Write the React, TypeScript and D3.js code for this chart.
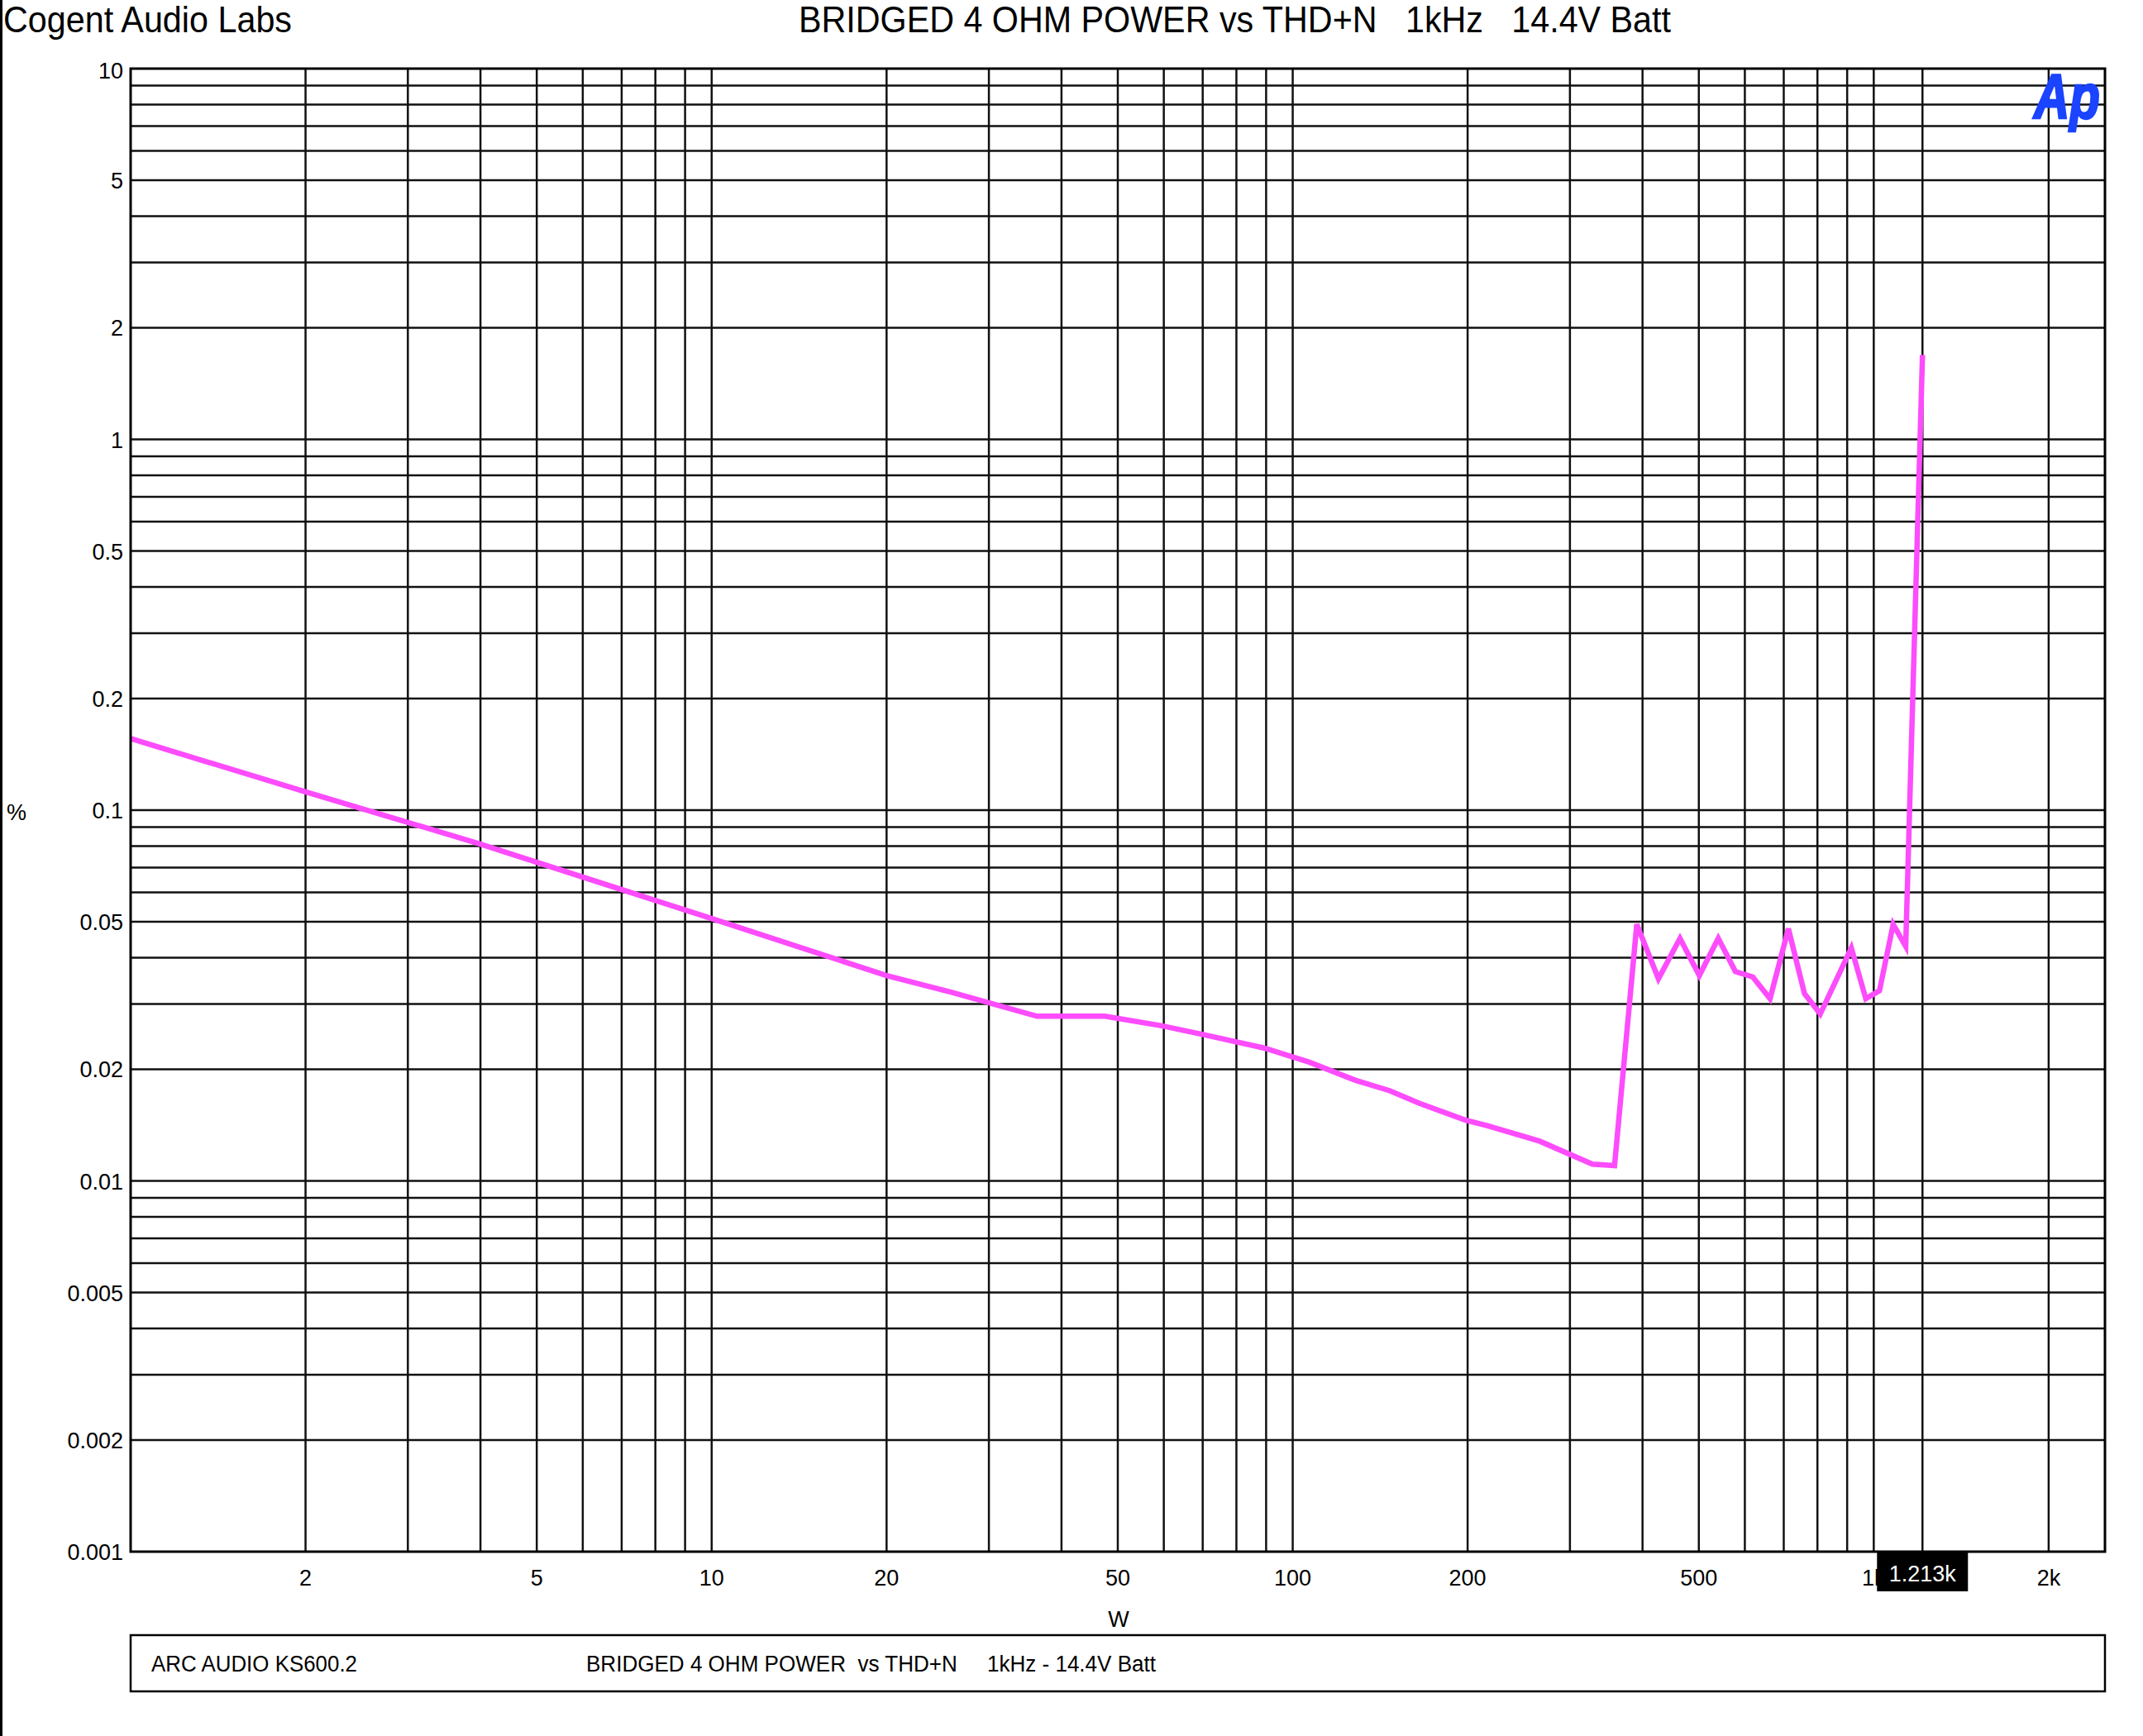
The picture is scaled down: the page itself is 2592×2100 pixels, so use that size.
import React from 'react';
import * as d3 from 'd3';

// Sweep readings: output power (W) vs THD+N (%)
const power = [1, 2, 4, 10, 20, 25.8, 36.3, 47.5, 59.5, 70.3, 89.5, 106.8, 128, 147, 165, 198, 216, 266, 328, 358,
  391, 426, 464, 501, 540, 578, 619, 663, 713, 760, 809, 915, 969, 1023, 1080, 1135, 1213];
const thdn = [0.156, 0.112, 0.081, 0.051, 0.0358, 0.0323, 0.0278, 0.0278, 0.0262, 0.0248, 0.0228, 0.0209, 0.0187, 0.0175, 0.0162, 0.0146, 0.0141, 0.0128, 0.0111, 0.0110,
  0.0492, 0.0351, 0.0451, 0.0358, 0.0451, 0.0367, 0.0355, 0.0310, 0.0479, 0.0320, 0.0282, 0.0425, 0.0310, 0.0326, 0.0492, 0.0429, 1.69];

const xTickValues = [2, 5, 10, 20, 50, 100, 200, 500, 1000, 2000];
const xTickLabels = ['2', '5', '10', '20', '50', '100', '200', '500', '1k', '2k'];
const yTickValues = [10, 5, 2, 1, 0.5, 0.2, 0.1, 0.05, 0.02, 0.01, 0.005, 0.002, 0.001];
const yTickLabels = ['10', '5', '2', '1', '0.5', '0.2', '0.1', '0.05', '0.02', '0.01', '0.005', '0.002', '0.001'];

const cursorPower = 1213;
const cursorLabel = '1.213k';

const company = 'Cogent Audio Labs';
const title = 'BRIDGED 4 OHM POWER vs THD+N   1kHz   14.4V Batt';
const legendName = 'ARC AUDIO KS600.2';
const legendDesc = 'BRIDGED 4 OHM POWER  vs THD+N     1kHz - 14.4V Batt';

const width = 2592;
const height = 2100;
const margin = { top: 83, right: 46, bottom: 223, left: 158 };
const font = "'Liberation Sans', Arial, sans-serif";
const curveColor = '#fc4cfc';

const App: React.FC = () => {
  const x = d3.scaleLog().domain([1, 2500]).range([margin.left, width - margin.right]);
  const y = d3.scaleLog().domain([0.001, 10]).range([height - margin.bottom, margin.top]);

  const [x0, x1] = x.range();
  const [y0, y1] = y.range(); // y0 bottom, y1 top

  const line = d3.line<number>()
    .x((_, i) => x(power[i]))
    .y(d => y(d));

  const cx = x(cursorPower);

  return (
    <svg width={width} height={height} style={{ position: 'absolute', left: 0, top: 0, background: '#fff' }}
      fontFamily={font}>
      <rect x={0} y={0} width={width} height={height} fill="#fff" />
      {/* left edge frame */}
      <line x1={1.5} x2={1.5} y1={0} y2={height} stroke="#000" strokeWidth={3} />

      <text x={4} y={39} fontSize={44} textLength={349} lengthAdjust="spacingAndGlyphs">{company}</text>
      <text x={966} y={39} fontSize={44} textLength={1055} lengthAdjust="spacingAndGlyphs"
        style={{ whiteSpace: 'pre' }}>{title}</text>

      {/* grid */}
      <g stroke="#111" strokeWidth={2.5}>
        {x.ticks().filter(v => v > 1 && v < 2500).map(v => (
          <line key={'vx' + v} x1={x(v)} x2={x(v)} y1={y1} y2={y0} />
        ))}
        {y.ticks().filter(v => v > 0.001 && v < 10).map(v => (
          <line key={'hy' + v} x1={x0} x2={x1} y1={y(v)} y2={y(v)} />
        ))}
      </g>

      {/* cursor */}
      <line x1={cx} x2={cx} y1={y1} y2={y0} stroke="#111" strokeWidth={2.5} />

      <path d={line(thdn) || ''} fill="none" stroke={curveColor} strokeWidth={6.5} />

      {/* frame */}
      <rect x={x0} y={y1} width={x1 - x0} height={y0 - y1} fill="none" stroke="#000" strokeWidth={3} />

      {/* Ap logo */}
      <text x={2540} y={143} fontSize={76} fontWeight="bold" fontStyle="italic" fill="#1a44ff"
        stroke="#1a44ff" strokeWidth={2.5} textAnchor="end" textLength={80} lengthAdjust="spacingAndGlyphs">Ap</text>

      {/* y axis labels */}
      {yTickValues.map((v, i) => (
        <text key={'yl' + v} x={149} y={Math.max(y(v), 85) + 10} fontSize={27} textAnchor="end">{yTickLabels[i]}</text>
      ))}
      <text x={20} y={992} fontSize={27} textAnchor="middle">%</text>

      {/* x axis labels */}
      {xTickValues.map((v, i) => (
        <text key={'xl' + v} x={x(v)} y={1918} fontSize={27} textAnchor="middle">{xTickLabels[i]}</text>
      ))}
      <text x={1353} y={1968} fontSize={27} textAnchor="middle">W</text>

      {/* cursor readout */}
      <rect x={cx - 55} y={y0 + 1} width={110} height={47} fill="#000" />
      <text x={cx} y={1913} fontSize={27} fill="#fff" textAnchor="middle">{cursorLabel}</text>

      {/* legend */}
      <rect x={x0} y={1978} width={x1 - x0} height={68} fill="none" stroke="#000" strokeWidth={2.5} />
      <text x={183} y={2022} fontSize={27} textLength={249} lengthAdjust="spacingAndGlyphs">{legendName}</text>
      <text x={709} y={2022} fontSize={27} textLength={689} lengthAdjust="spacingAndGlyphs"
        style={{ whiteSpace: 'pre' }}>{legendDesc}</text>
    </svg>
  );
};

export default App;
